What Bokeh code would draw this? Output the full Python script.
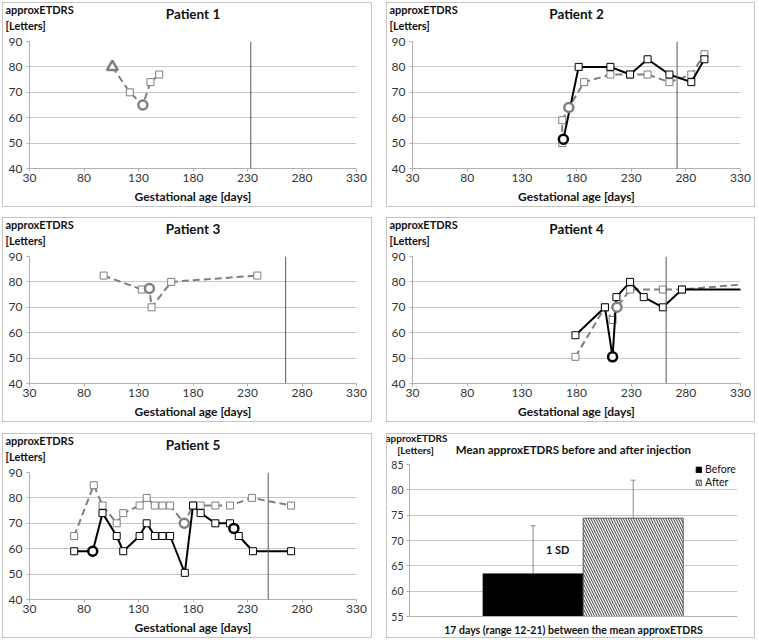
from bokeh.plotting import figure
from bokeh.layouts import column, row
from bokeh.models import (Span, Label, FixedTicker, ColumnDataSource, Range1d, Spacer,
                          Whisker, Legend, LegendItem, TeeHead)
from bokeh.core.properties import value
from bokeh.embed import file_html
from bokeh.resources import INLINE

FONT = "Lato"

# ---------------- data ----------------
x_ticks = [30, 80, 130, 180, 230, 280, 330]
y_ticks = [40, 50, 60, 70, 80, 90]

p1_gray_x = [106, 122, 134, 141, 149]
p1_gray_y = [80, 70, 65, 74, 77]
p1_gray_m = ["triangle", "square", "circle", "square", "square"]
p1_delivery = 233

p2_black_x = [168, 182, 211, 229, 245, 265, 285, 297]
p2_black_y = [51.5, 80, 80, 77, 83, 77, 74, 83]
p2_black_m = ["circle", "square", "square", "square", "square", "square", "square", "square"]
p2_gray_x = [167, 167, 173, 187, 211, 229, 245, 265, 285, 297]
p2_gray_y = [50, 59, 64, 74, 77, 77, 77, 74, 77, 85]
p2_gray_m = ["square", "square", "circle", "square", "square", "square", "square", "square", "square", "square"]
p2_delivery = 272

p3_gray_x = [98, 133, 140, 142, 160, 239]
p3_gray_y = [82.5, 77, 77.4, 70, 80, 82.5]
p3_gray_m = ["square", "square", "circle", "square", "square", "square"]
p3_delivery = 265

p4_black_x = [179, 206, 213, 216.5, 229, 241.5, 259, 276.5, 345]
p4_black_y = [59, 70, 50.5, 74, 80, 74, 70, 77, 77]
p4_black_m = ["square", "square", "circle", "square", "square", "square", "square", "square", "square"]
p4_gray_x = [179, 206, 213, 217, 229, 259, 276.5, 345]
p4_gray_y = [50.5, 70, 65, 70, 77, 77, 77, 79.5]
p4_gray_m = ["square", "square", "square", "circle", "square", "square", "square", "square"]
p4_delivery = 262

p5_black_x = [71, 88, 97, 110, 116, 131, 137.5, 145, 152, 159, 172.5, 180, 187, 200.5, 214, 217.5, 222, 235, 270]
p5_black_y = [59, 59, 74, 65, 59, 65, 70, 65, 65, 65, 50.5, 77, 74, 70, 70, 68, 65, 59, 59]
p5_black_m = ["square", "circle", "square", "square", "square", "square", "square", "square", "square", "square",
              "square", "square", "square", "square", "square", "circle", "square", "square", "square"]
p5_gray_x = [71, 89, 97, 110, 116, 131, 137.5, 145, 152, 159, 172, 180, 187, 200.5, 214, 234, 270]
p5_gray_y = [65, 85, 77, 70, 74, 77, 80, 77, 77, 77, 70, 77, 77, 77, 77, 80, 77]
p5_gray_m = ["square", "square", "square", "square", "square", "square", "square", "square", "square", "square",
             "circle", "square", "square", "square", "square", "square", "square"]
p5_delivery = 249

p6_category = ["17 days (range 12-21) between the mean approxETDRS"]
p6_series = ["Before", "After"]
p6_mean = [63.4, 74.4]
p6_upper = [72.9, 81.9]
p6_y_ticks = [55, 60, 65, 70, 75, 80, 85]

# ---------------- geometry (pixels) ----------------
BOX_W = [370, 369]          # panel box widths (left / right column)
BOX_H = 205                 # panel box height
HEAD_H = 33                 # header strip (titles) height
LR = [(27, 16), (26, 15)]   # frame left/right borders per column
TOP, BOTTOM = 6, 39
HEAD_SHIFT = 5              # header baseline correction

GRID = "#c8c8c8"
AXIS = "#b0b0b0"
TICKTXT = "#333333"
GRAY = "#7f7f7f"
BOXC = "#c4c4c4"
TXT = "#111111"


def header(width, height, texts):
    h = figure(width=width, height=height, x_range=Range1d(0, width), y_range=Range1d(0, height),
               x_axis_type=None, y_axis_type=None, toolbar_location=None, output_backend="svg",
               title=None, min_border=0, min_border_left=0, min_border_right=0,
               min_border_top=0, min_border_bottom=0)
    h.outline_line_color = None
    h.background_fill_color = None
    h.border_fill_color = None
    for x, y, text, size, align in texts:
        h.add_layout(Label(x=x, y=y + HEAD_SHIFT, y_units="screen", text=text, text_font=FONT,
                           text_font_size=size, text_font_style="bold", text_align=align,
                           text_baseline="alphabetic", text_color=TXT))
    return row(h)


def style_axes(p, tick_size):
    p.outline_line_color = None
    p.border_fill_color = None
    p.xgrid.grid_line_color = None
    p.ygrid.grid_line_color = GRID
    for ax in (p.xaxis, p.yaxis):
        ax.axis_line_color = AXIS
        ax.major_tick_line_color = AXIS
        ax.minor_tick_line_color = None
        ax.major_tick_out = 3
        ax.major_tick_in = 0
        ax.major_label_text_font = FONT
        ax.major_label_text_font_size = tick_size
        ax.major_label_text_color = TICKTXT


def add_series(p, xs, ys, ms, color, dash):
    if dash:
        p.line(xs, ys, line_color=color, line_width=2, line_dash="7 4")
    else:
        p.line(xs, ys, line_color=color, line_width=2)
    sq = [(x, y) for x, y, m in zip(xs, ys, ms) if m == "square"]
    if sq:
        p.scatter([a for a, _ in sq], [b for _, b in sq], marker="square", size=7,
                  fill_color="white", line_color=color, line_width=1)
    return [(x, y, m) for x, y, m in zip(xs, ys, ms) if m != "square"]


def add_events(p, events, color):
    for x, y, m in events:
        size = 11 if m == "triangle" else 9
        p.scatter([x], [y], marker=m, size=size, fill_color="white",
                  line_color=color, line_width=2.5)


def boxed(h, p):
    return column(h, p, styles={"box-shadow": "inset 0 0 0 1px " + BOXC})


def patient_panel(c, title, delivery, gx, gy, gm, bx=None, by=None, bm=None):
    w = BOX_W[c]
    L, R = LR[c]
    fw = w - L - R
    h = header(w, HEAD_H, [(3, 21, "approxETDRS", "11px", "left"),
                           (3, 5.5, "[Letters]", "11px", "left"),
                           (L + fw / 2, 16.5, title, "13.5px", "center")])
    p = figure(width=w, height=BOX_H - HEAD_H, x_range=(x_ticks[0], x_ticks[-1]),
               y_range=(y_ticks[0], y_ticks[-1]),
               output_backend="svg", toolbar_location=None,
               min_border_left=L, min_border_right=R, min_border_top=TOP, min_border_bottom=BOTTOM)
    style_axes(p, "12px")
    p.xaxis.ticker = FixedTicker(ticks=x_ticks)
    p.yaxis.ticker = FixedTicker(ticks=y_ticks)
    p.ygrid.ticker = FixedTicker(ticks=y_ticks)
    p.xaxis.major_label_standoff = 2
    p.yaxis.major_label_standoff = 4
    p.xaxis.axis_label = "Gestational age [days]"
    p.xaxis.axis_label_text_font = FONT
    p.xaxis.axis_label_text_font_size = "12px"
    p.xaxis.axis_label_text_font_style = "bold"
    p.xaxis.axis_label_text_color = TXT
    p.xaxis.axis_label_standoff = 4

    p.add_layout(Span(location=delivery, dimension="height", line_color="#595959", line_width=1))

    ev_g = add_series(p, gx, gy, gm, GRAY, True)
    ev_b = []
    if bx is not None:
        ev_b = add_series(p, bx, by, bm, "black", False)
    add_events(p, ev_g, GRAY)
    add_events(p, ev_b, "black")
    return boxed(h, p)


b1 = patient_panel(0, "Patient 1", p1_delivery, p1_gray_x, p1_gray_y, p1_gray_m)
b2 = patient_panel(1, "Patient 2", p2_delivery, p2_gray_x, p2_gray_y, p2_gray_m, p2_black_x, p2_black_y, p2_black_m)
b3 = patient_panel(0, "Patient 3", p3_delivery, p3_gray_x, p3_gray_y, p3_gray_m)
b4 = patient_panel(1, "Patient 4", p4_delivery, p4_gray_x, p4_gray_y, p4_gray_m, p4_black_x, p4_black_y, p4_black_m)
b5 = patient_panel(0, "Patient 5", p5_delivery, p5_gray_x, p5_gray_y, p5_gray_m, p5_black_x, p5_black_y, p5_black_m)

# ---------------- panel 6 ----------------
W6 = BOX_W[1]
HEAD6 = 25
L6, R6, T6, B6 = 23, 18, 6, 19
FW6 = W6 - L6 - R6
FH6 = BOX_H - HEAD6 - T6 - B6
h6 = header(W6, HEAD6, [(30, 16, "approxETDRS", "10px", "center"),
                        (29, 4, "[Letters]", "10px", "center"),
                        (L6 + FW6 / 2, 4, "Mean approxETDRS before and after injection", "11.5px", "center")])
cat_pos = list(range(len(p6_category)))
p6 = figure(width=W6, height=BOX_H - HEAD6, x_range=(cat_pos[0] - 0.5, cat_pos[-1] + 0.5),
            y_range=(p6_y_ticks[0], p6_y_ticks[-1]),
            output_backend="svg", toolbar_location=None,
            min_border_left=L6, min_border_right=R6, min_border_top=T6, min_border_bottom=B6)
style_axes(p6, "10.5px")
p6.yaxis.ticker = FixedTicker(ticks=p6_y_ticks)
p6.ygrid.ticker = FixedTicker(ticks=p6_y_ticks)
p6.yaxis.major_label_standoff = 3
p6.xaxis.ticker = FixedTicker(ticks=cat_pos)
p6.xaxis.major_label_overrides = {cat_pos[i]: p6_category[i] for i in range(len(cat_pos))}
p6.xaxis.major_tick_line_color = None
p6.xaxis.major_label_text_font_style = "bold"
p6.xaxis.major_label_text_color = TXT
p6.xaxis.major_label_text_font_size = "10.5px"
p6.xaxis.major_label_standoff = 4

offsets = [-0.123, 0.182]
bar_w = 0.305
renderers = []
for i, name in enumerate(p6_series):
    src = ColumnDataSource(dict(x=[c + offsets[i] for c in cat_pos], top=[p6_mean[i]], upper=[p6_upper[i]]))
    if name == "Before":
        r = p6.vbar(x="x", top="top", bottom=p6_y_ticks[0], width=bar_w, source=src,
                    fill_color="black", line_color="black", line_width=1)
    else:
        r = p6.vbar(x="x", top="top", bottom=p6_y_ticks[0], width=bar_w, source=src,
                    fill_color="white", line_color="#555555", line_width=1,
                    hatch_pattern="\\", hatch_color="#3a3a3a", hatch_scale=5, hatch_weight=1)
    renderers.append(r)
    p6.add_layout(Whisker(source=src, base="x", upper="upper", lower="top", dimension="height",
                          line_color="#8a8a8a", line_width=1,
                          upper_head=TeeHead(size=5, line_color="#8a8a8a", line_width=1),
                          lower_head=None))

sd_src = ColumnDataSource(dict(x=[cat_pos[0] + offsets[0] + 0.075],
                               y=[(p6_mean[0] + p6_upper[0]) / 2], t=["1 SD"]))
p6.text(x="x", y="y", text="t", source=sd_src,
        text_font=value(FONT), text_font_size="11px", text_font_style="bold",
        text_align="center", text_baseline="middle", text_color=TXT)

legend = Legend(items=[LegendItem(label=p6_series[i], renderers=[renderers[i]]) for i in range(2)],
                location=(286, FH6 - 27), orientation="vertical",
                background_fill_alpha=0, border_line_color=None,
                glyph_width=7, glyph_height=7, label_standoff=3, spacing=1, padding=0, margin=0,
                label_text_font=FONT, label_text_font_size="10.5px", label_text_color=TXT,
                label_height=12)
p6.add_layout(legend, "center")
b6 = boxed(h6, p6)

layout = column(
    Spacer(height=2),
    row(Spacer(width=2), b1, Spacer(width=14), b2),
    Spacer(height=10),
    row(Spacer(width=2), b3, Spacer(width=14), b4),
    Spacer(height=11),
    row(Spacer(width=2), b5, Spacer(width=14), b6),
)

open("out.html", "w").write(file_html(layout, INLINE))
